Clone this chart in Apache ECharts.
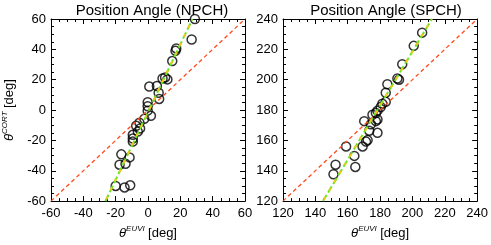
<!DOCTYPE html>
<html><head><meta charset="utf-8">
<script src="https://cdn.jsdelivr.net/npm/echarts@6/dist/echarts.min.js"></script>
<style>html,body{margin:0;padding:0;background:#fff}#c{width:491px;height:245px}</style>
</head><body><div id="c"></div>
<script>
// ---- data ----
const npchTitle = 'Position Angle (NPCH)';
const spchTitle = 'Position Angle (SPCH)';
const npchEuvi = [29, 27, 17.5, 17, 15, 10.6, 12, 9, 5.5, 0.8, 6.6, 6.9, -0.2, -0.2, -0.2, 1.8, -2.3, -5.3, -7.3, -4.9, -6.3, -9.4, -9.4, -9.4, -16.5, -11.4, -17.6, -13.9, -20, -14.5, -11];
const npchCort = [60, 46.5, 40.6, 39, 32.3, 21.5, 20.2, 20.8, 15.8, 15.5, 11.4, 7.3, 5.2, 2.5, -0.4, -3.8, -5.8, -8.3, -10.4, -12.1, -14.2, -16.3, -18.8, -20.8, -29.2, -31.2, -36, -35.4, -50, -51, -49.6];
const spchEuvi = [206, 200.8, 193.7, 190.7, 191.7, 184.5, 183.5, 183.5, 181.4, 180.4, 178.4, 177.4, 175.3, 170.2, 177.4, 178.4, 174.3, 173.3, 178.4, 172.3, 171.3, 169.2, 159, 164.1, 164.7, 152.5, 151.2];
const spchCort = [231, 222.3, 210.2, 200.8, 200, 197, 191.4, 185.4, 184.2, 182, 179.6, 178, 176.9, 172.7, 172.7, 173.8, 170.6, 166.4, 165, 160.2, 159.2, 156, 156, 149.8, 142.5, 144, 137.7];
// fit lines (end points) and identity lines
const npchFitX = [-26.3, 27.5], npchFitY = [-60, 60];
const spchFitX = [144.7, 212], spchFitY = [120, 240];
const npchIdX = [-60, 60], npchIdY = [-60, 60];
const spchIdX = [120, 240], spchIdY = [120, 240];
const npchRange = [-60, 60], spchRange = [120, 240];
const tickStep = 20;

const zip = (a, b) => a.map((v, i) => [v, b[i]]);
const FONT = 'Liberation Sans, Arial, sans-serif';

function axis(dim, gi, range, pos, showLabel, name) {
  const a = {
    type: 'value', gridIndex: gi, position: pos, min: range[0], max: range[1], interval: tickStep,
    axisLine: { show: true, onZero: false, lineStyle: { color: '#000', width: 1 } },
    axisTick: { show: true, inside: true, length: 5, lineStyle: { color: '#000', width: 1 } },
    minorTick: { show: true, splitNumber: 4, length: 3, lineStyle: { color: '#000', width: 1 } },
    splitLine: { show: false },
    axisLabel: { show: showLabel, color: '#000', fontSize: 13, fontFamily: FONT, margin: dim === 'x' ? 6 : 5 }
  };
  if (name) Object.assign(a, name);
  return a;
}
const rich = {
  t: { fontSize: 13, fontFamily: FONT, fontStyle: 'italic', color: '#000', lineHeight: 16 },
  s: { fontSize: 8, fontFamily: FONT, fontStyle: 'italic', color: '#000', verticalAlign: 'top', lineHeight: 16, padding: [0, 0, 7, 0] },
  n: { fontSize: 13, fontFamily: FONT, color: '#000', lineHeight: 16 }
};
const xName = { name: '{t|θ}{s|EUVI} {n|[deg]}', nameLocation: 'middle', nameGap: 20, nameTextStyle: { rich } };
const yName = { name: '{t|θ}{s|CORT} {n|[deg]}', nameLocation: 'middle', nameGap: 34, nameRotate: 90, nameTextStyle: { rich } };

function panelSeries(gi, ex, cy, fx, fy, ix, iy) {
  const xi = gi * 2, yi = gi * 2;
  return [
    { type: 'scatter', xAxisIndex: xi, yAxisIndex: yi, data: zip(ex, cy), symbol: 'circle', symbolSize: 9,
      itemStyle: { color: 'rgba(0,0,0,0)', borderColor: '#000', borderWidth: 1.5 }, z: 2, silent: true },
    { type: 'line', xAxisIndex: xi, yAxisIndex: yi, data: zip(ix, iy), symbol: 'none',
      lineStyle: { color: '#ff4a1c', width: 1.3, type: [4, 3] }, z: 3, silent: true },
    { type: 'line', xAxisIndex: xi, yAxisIndex: yi, data: zip(fx, fy), symbol: 'none',
      lineStyle: { color: '#66e61a', width: 2, type: [7, 3] }, z: 4, silent: true },
    { type: 'line', xAxisIndex: xi, yAxisIndex: yi, data: zip(fx, fy), symbol: 'none',
      lineStyle: { color: '#f2c81a', width: 2, type: [3, 7], dashOffset: -2 }, z: 5, silent: true }
  ];
}

const chart = echarts.init(document.getElementById('c'), null, { renderer: 'canvas' });
chart.setOption({
  animation: false,
  backgroundColor: '#fff',
  title: [
    { text: npchTitle, left: 147, textAlign: 'center', top: -2, textStyle: { fontSize: 15, fontWeight: 'normal', color: '#000', fontFamily: FONT } },
    { text: spchTitle, left: 381, textAlign: 'center', top: -2, textStyle: { fontSize: 15, fontWeight: 'normal', color: '#000', fontFamily: FONT } }
  ],
  grid: [
    { left: 49, top: 19, width: 196, height: 192 },
    { left: 283, top: 19, width: 196, height: 192 }
  ],
  xAxis: [
    axis('x', 0, npchRange, 'bottom', true, xName),
    axis('x', 0, npchRange, 'top', false),
    axis('x', 1, spchRange, 'bottom', true, xName),
    axis('x', 1, spchRange, 'top', false)
  ],
  yAxis: [
    axis('y', 0, npchRange, 'left', true, yName),
    axis('y', 0, npchRange, 'right', false),
    axis('y', 1, spchRange, 'left', true),
    axis('y', 1, spchRange, 'right', false)
  ],
  series: [].concat(
    panelSeries(0, npchEuvi, npchCort, npchFitX, npchFitY, npchIdX, npchIdY),
    panelSeries(1, spchEuvi, spchCort, spchFitX, spchFitY, spchIdX, spchIdY)
  )
});
</script></body></html>
